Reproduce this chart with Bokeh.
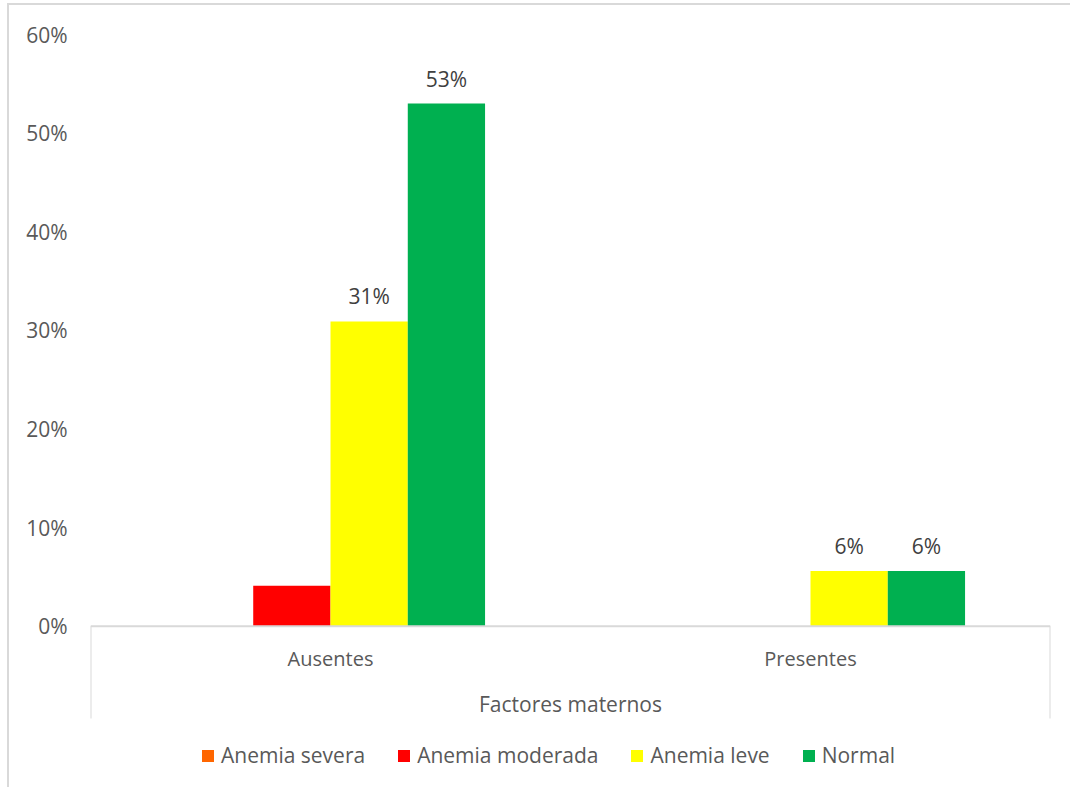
from bokeh.plotting import figure
from bokeh.models import (FactorRange, Range1d, FixedTicker, NumeralTickFormatter,
                          Legend, LegendItem, ColumnDataSource)
from bokeh.transform import dodge
from bokeh.core.properties import value
from bokeh.embed import file_html
from bokeh.resources import INLINE

# Share of children per anemia level, by presence of maternal factors
categories = ["Ausentes", "Presentes"]
series = ["Anemia severa", "Anemia moderada", "Anemia leve", "Normal"]
anemia_severa = [0.0, 0.0]
anemia_moderada = [0.041, 0.0]
anemia_leve = [0.309, 0.056]
normal = [0.530, 0.056]
series_colors = ["#FF6600", "#FF0000", "#FFFF00", "#00B050"]
labelled_series = ["Anemia leve", "Normal"]
y_ticks = [0.0, 0.1, 0.2, 0.3, 0.4, 0.5, 0.6]
x_title = "Factores maternos"

FONT = "Open Sans"
TEXT = "#595959"
LINE = "#D9D9D9"
FS = "21px"
FS_CAT = "20px"

# Vertical layout (data units): plot spans 0..60%, the category table and
# legend live in the band below zero
Y_TOP = 0.6
Y_BOTTOM = -0.1656
TABLE_BOTTOM = -0.0936
CAT_Y = -0.0327
TITLE_Y = -0.0784

values = dict(zip(series, [anemia_severa, anemia_moderada, anemia_leve, normal]))

src = ColumnDataSource(dict(cat=categories, **{s: v for s, v in values.items()}))

p = figure(
    width=1063, height=784,
    x_range=FactorRange(*categories, range_padding=0),
    y_range=Range1d(Y_BOTTOM, Y_TOP),
    output_backend="svg", toolbar_location=None,
    min_border_left=81, min_border_right=22, min_border_top=29, min_border_bottom=0,
)
p.styles = {"border-top": "2px solid #D9D9D9", "border-left": "2px solid #D9D9D9",
            "margin-left": "7px", "margin-top": "3px"}
p.outline_line_color = None
p.xgrid.visible = False
p.ygrid.visible = False
p.xaxis.visible = False

yax = p.yaxis[0]
yax.ticker = FixedTicker(ticks=y_ticks)
yax.formatter = NumeralTickFormatter(format="0%")
yax.axis_line_color = None
yax.major_tick_line_color = None
yax.minor_tick_line_color = None
yax.major_label_standoff = 17
yax.major_label_text_font = FONT
yax.major_label_text_font_size = FS
yax.major_label_text_color = TEXT

bar_w = 0.161
n = len(series)
offsets = [(i - (n - 1) / 2) * bar_w for i in range(n)]

items = []
for s, col, off in zip(series, series_colors, offsets):
    r = p.vbar(x=dodge("cat", off, range=p.x_range), top=s, width=bar_w, source=src,
               fill_color=col, line_color=None)
    items.append(LegendItem(label=s, renderers=[r]))
    if s in labelled_series:
        lab_src = ColumnDataSource(dict(cat=categories, v=values[s],
                                        t=[f"{round(v * 100):.0f}%" for v in values[s]]))
        p.text(x=dodge("cat", off, range=p.x_range), y="v", text="t", source=lab_src,
               text_align="center", text_baseline="middle", y_offset=-25,
               text_font=value(FONT), text_font_size=FS, text_color="#404040")

# Category axis drawn as an open table: baseline plus outer dividers
nc = len(categories)
p.segment(x0=[0], x1=[nc], y0=[0], y1=[0], line_color=LINE, line_width=2)
p.segment(x0=[0, nc], x1=[0, nc], y0=[0, 0], y1=[TABLE_BOTTOM, TABLE_BOTTOM],
          line_color=LINE, line_width=2)
p.text(x=categories, y=[CAT_Y] * nc, text=categories, text_align="center",
       text_baseline="middle", text_font=value(FONT), text_font_size=FS_CAT,
       text_color=TEXT)
p.text(x=[nc / 2], y=[TITLE_Y], text=[x_title], text_align="center",
       text_baseline="middle", text_font=value(FONT), text_font_size=FS, text_color=TEXT)

legend = Legend(items=items, orientation="horizontal", location=(110, 20),
                glyph_width=15, glyph_height=15, label_standoff=6, spacing=31,
                padding=0, margin=0, border_line_color=None, background_fill_alpha=0,
                label_text_font=FONT, label_text_font_size=FS, label_text_color=TEXT)
p.add_layout(legend, "center")

open("out.html", "w").write(file_html(p, INLINE))
